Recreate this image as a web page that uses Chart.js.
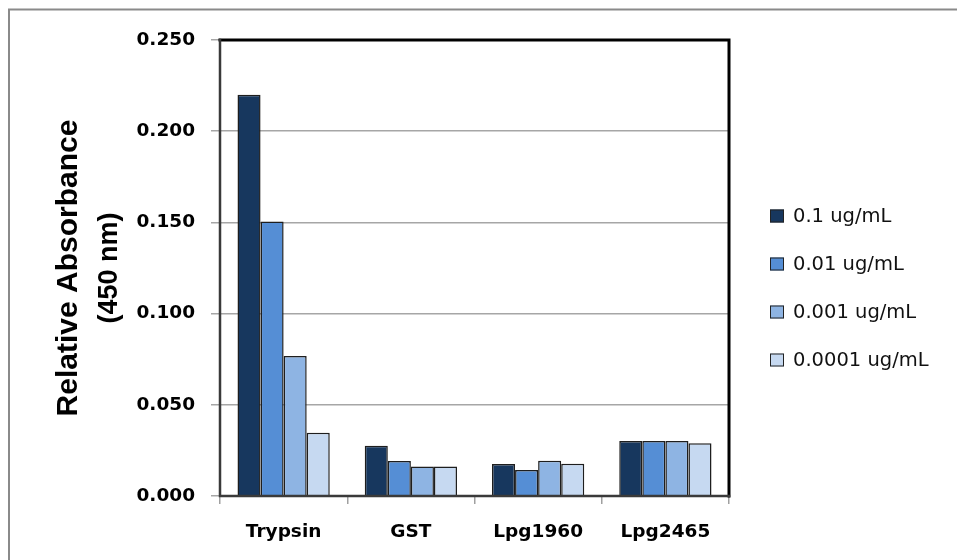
<!DOCTYPE html>
<html>
<head>
<meta charset="utf-8">
<script src="https://cdn.jsdelivr.net/npm/chart.js@4/dist/chart.umd.min.js"></script>
<style>
  html, body { margin: 0; padding: 0; background: #fff; }
  #wrap { width: 957px; height: 560px; }
</style>
</head>
<body>
<div id="wrap"><canvas id="chart" width="957" height="560"></canvas></div>
<script>
// Chart data
const proteins = ['Trypsin', 'GST', 'Lpg1960', 'Lpg2465']
const seriesNames = ['0.1 ug/mL', '0.01 ug/mL', '0.001 ug/mL', '0.0001 ug/mL']
const conc0_1 = [0.220, 0.0275, 0.0175, 0.0302]
const conc0_01 = [0.1505, 0.0192, 0.0143, 0.0302]
const conc0_001 = [0.0767, 0.0162, 0.0193, 0.0302]
const conc0_0001 = [0.0347, 0.0162, 0.0177, 0.0289]
const yTicks = [0, 0.05, 0.10, 0.15, 0.20, 0.25]
const axisTitle = ['Relative Absorbance', '(450 nm)']

const barColors = ['#17375E', '#558ED5', '#8EB4E3', '#C6D9F1']
const seriesValues = [conc0_1, conc0_01, conc0_001, conc0_0001]

// white background + outer frame
const backgroundPlugin = {
  id: 'background',
  beforeDraw(chart) {
    const ctx = chart.ctx
    ctx.save()
    ctx.fillStyle = '#fff'
    ctx.fillRect(0, 0, chart.width, chart.height)
    ctx.strokeStyle = '#8a8a8a'
    ctx.lineWidth = 2
    ctx.beginPath()
    ctx.moveTo(9, chart.height + 2)
    ctx.lineTo(9, 9.5)
    ctx.lineTo(chart.width + 2, 9.5)
    ctx.stroke()
    ctx.restore()
  }
}

// plot frame drawn on top of the bars
const framePlugin = {
  id: 'frame',
  afterDatasetsDraw(chart) {
    const { ctx, chartArea: a } = chart
    ctx.save()
    ctx.lineCap = 'square'
    ctx.strokeStyle = '#000'
    ctx.lineWidth = 3
    ctx.beginPath()
    ctx.moveTo(a.left, a.top)
    ctx.lineTo(a.right, a.top)
    ctx.lineTo(a.right, a.bottom)
    ctx.stroke()
    ctx.strokeStyle = '#3a3a3a'
    ctx.lineWidth = 2.5
    ctx.beginPath()
    ctx.moveTo(a.left, a.top)
    ctx.lineTo(a.left, a.bottom)
    ctx.lineTo(a.right, a.bottom)
    ctx.stroke()
    ctx.restore()
  }
}

// rotated two-line axis title
const titlePlugin = {
  id: 'axisTitle',
  afterDraw(chart) {
    const { ctx, chartArea: a } = chart
    const cy = (a.top + a.bottom) / 2
    const lines = [
      { text: axisTitle[0], x: 77, font: 'bold 30px "Liberation Sans"' },
      { text: axisTitle[1], x: 117, font: 'bold 27px "Liberation Sans"' }
    ]
    lines.forEach(l => {
      ctx.save()
      ctx.fillStyle = '#000'
      ctx.textAlign = 'center'
      ctx.textBaseline = 'alphabetic'
      ctx.translate(l.x, cy)
      ctx.rotate(-Math.PI / 2)
      ctx.font = l.font
      ctx.fillText(l.text, 0, 0)
      ctx.restore()
    })
  }
}

// legend on the right
const legendPlugin = {
  id: 'sideLegend',
  afterDraw(chart) {
    const ctx = chart.ctx
    ctx.save()
    ctx.font = '19.5px "DejaVu Sans"'
    ctx.textBaseline = 'middle'
    ctx.textAlign = 'left'
    chart.data.datasets.forEach((ds, i) => {
      const cy = 216 + i * 48
      ctx.fillStyle = ds.backgroundColor
      ctx.fillRect(770, cy - 6.5, 14, 13)
      ctx.strokeStyle = '#222'
      ctx.lineWidth = 1
      ctx.strokeRect(770.5, cy - 6, 13, 12)
      ctx.fillStyle = '#111'
      ctx.fillText(ds.label, 793, cy + 1)
    })
    ctx.restore()
  }
}

const datasets = seriesNames.map((name, i) => ({
  label: name,
  data: seriesValues[i],
  backgroundColor: barColors[i],
  borderColor: '#1e1e1e',
  borderWidth: 1.5,
  categoryPercentage: 0.725,
  barPercentage: 1.0
}))

new Chart(document.getElementById('chart'), {
  type: 'bar',
  data: { labels: proteins, datasets },
  plugins: [backgroundPlugin, framePlugin, titlePlugin, legendPlugin],
  options: {
    responsive: false,
    animation: false,
    devicePixelRatio: 1,
    layout: {
      padding: { top: 40, right: 228, bottom: 0, left: 0 }
    },
    plugins: {
      legend: { display: false },
      tooltip: { enabled: false }
    },
    scales: {
      x: {
        offset: true,
        grid: {
          offset: true,
          drawOnChartArea: false,
          drawTicks: true,
          tickLength: 8,
          color: '#a0a0a0',
          lineWidth: 1.5
        },
        border: { display: false },
        ticks: {
          color: '#000',
          padding: 17,
          font: { family: 'DejaVu Sans', weight: 'bold', size: 18.5 }
        },
        afterFit(scale) { scale.height = 64 }
      },
      y: {
        min: 0,
        max: 0.25,
        afterBuildTicks(scale) {
          scale.ticks = yTicks.map(v => ({ value: v }))
        },
        grid: {
          color: '#a6a6a6',
          lineWidth: 1.5,
          tickLength: 9
        },
        border: { display: false },
        ticks: {
          color: '#000',
          padding: 16,
          font: { family: 'DejaVu Sans', weight: 'bold', size: 18.5 },
          callback: v => v.toFixed(3)
        },
        afterFit(scale) { scale.width = 220 }
      }
    }
  }
})
</script>
</body>
</html>
